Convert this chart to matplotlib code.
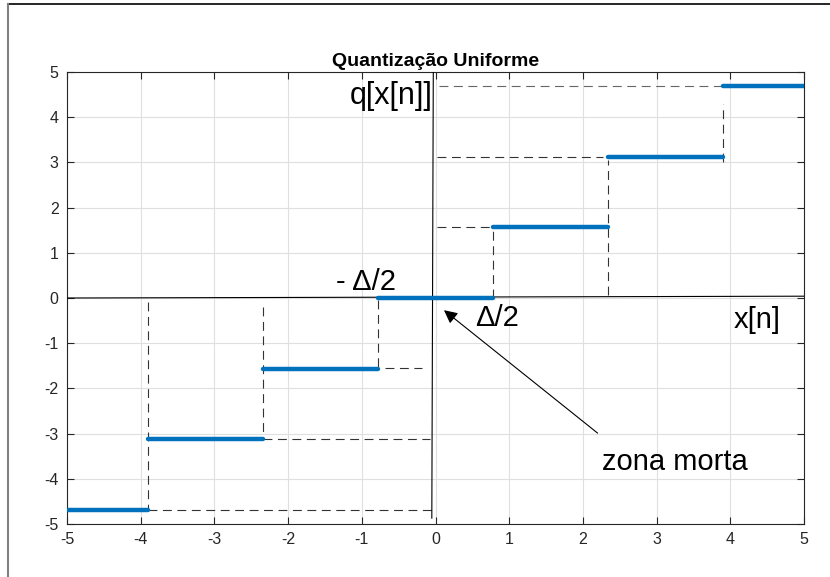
import matplotlib
matplotlib.use("Agg")
import matplotlib.pyplot as plt
import numpy as np
from matplotlib.lines import Line2D

plt.rcParams['font.family'] = ['Liberation Sans', 'DejaVu Sans']
plt.rcParams['axes.unicode_minus'] = False

# quantizer: step size and decision thresholds
DELTA = 1.5625
thresholds = [-3.90625, -2.34375, -0.78125, 0.78125, 2.34375, 3.90625]
levels = [-4.6875, -3.125, -1.5625, 0.0, 1.5625, 3.125, 4.6875]
x_range = [-5, 5]

# dashed guide lines (drawn by hand in the original)
# vertical guides at each threshold: (x, y_from, y_to)
v_guides = [(-3.90625, -0.09, -4.6875), (-2.34375, -0.2, -3.125), (-0.78125, -0.04, -1.5625),
            (0.78125, 0.0, 1.5625), (2.34375, 0.07, 3.05), (3.90625, 3.0, 4.3)]
# horizontal guides: (y, x_from, x_to)
h_guides = [(-4.6875, -3.9, -0.03), (-3.125, -2.34, -0.07), (-1.55, -0.69, -0.18),
            (1.5625, 0.02, 0.78), (3.125, 0.02, 2.27), (4.6875, 0.05, 3.88)]

fig = plt.figure(figsize=(8.3, 5.77), dpi=100)
ax = fig.add_axes([67/830, 1 - 524/577, (804-67)/830, (524-72)/577])

dash = (0, (8, 5))
for x, y0, y1 in v_guides:
    ax.plot([x, x], [y0, y1], color='#333333', lw=0.8, linestyle=dash, zorder=2)
for y, x0, x1 in h_guides:
    c = '#666666' if y > 4 else '#333333'
    ax.plot([x0, x1], [y, y], color=c, lw=0.8, linestyle=dash, zorder=2)

# axis lines through origin
ax.plot(x_range, [0, 0.04], color='k', lw=0.8, zorder=3)
ax.plot([-0.03, -0.05], [5, -4.87], color='k', lw=0.8, zorder=3)

# staircase
edges = [x_range[0]] + thresholds + [x_range[1]]
for i, q in enumerate(levels):
    ax.plot([edges[i], edges[i+1]], [q, q], color='#0072BD', lw=3.2,
            solid_capstyle='round', zorder=4)

ax.set_xlim(-5, 5)
ax.set_ylim(-5, 5)
ax.set_xticks(np.arange(-5, 6, 1))
ax.set_yticks(np.arange(-5, 6, 1))
ax.grid(True, color='#dfdfdf', lw=0.8)
ax.set_axisbelow(True)
ax.tick_params(direction='in', top=True, right=True, length=5, width=0.8,
               colors='#262626', labelsize=11.5, pad=6)
for s in ax.spines.values():
    s.set_color('#262626')
    s.set_linewidth(0.8)

ax.set_title('Quantização Uniforme', fontsize=14, fontweight='bold', pad=4,
             color='k')

ax.text(-0.04, 4.47, 'q[x[n]]', fontsize=22, ha='right', va='center')
ax.text(-0.94, 0.36, '- Δ/2', fontsize=21, ha='center', va='center')
ax.text(0.83, -0.44, 'Δ/2', fontsize=21, ha='center', va='center')
ax.text(4.36, -0.49, 'x[n]', fontsize=21, ha='center', va='center')
ax.text(3.25, -3.63, 'zona morta', fontsize=21, ha='center', va='center')
ax.annotate('', xy=(0.115, -0.27), xytext=(2.2, -2.99),
            arrowprops=dict(arrowstyle='-|>', color='k', lw=0.8,
                            mutation_scale=20, shrinkA=0, shrinkB=0))

# outer frame of the original screenshot
fig.add_artist(Line2D([8/830, 1], [1 - 4/577, 1 - 4/577], color='k', lw=1.2,
                      transform=fig.transFigure))
fig.add_artist(Line2D([8/830, 8/830], [0, 1 - 4/577], color='#808080', lw=1.5,
                      transform=fig.transFigure))

fig.savefig('out.png', dpi=100)
